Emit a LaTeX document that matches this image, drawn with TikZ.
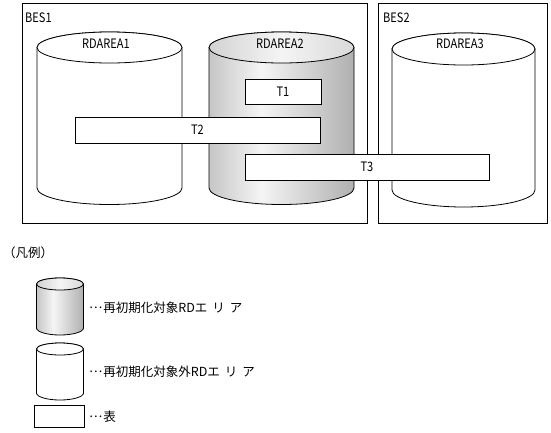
\documentclass[tikz,border=0pt]{standalone}
\usepackage{fontspec}
\setmainfont{Noto Sans CJK JP}
\newfontfamily\narrowfont{Noto Sans CJK JP}[FakeStretch=0.85]
\usetikzlibrary{positioning}

\pgfdeclarehorizontalshading{cylgray}{100bp}{color(0bp)=(gray!45); color(25bp)=(gray!45);
  color(43bp)=(gray!8); color(75bp)=(gray!62); color(100bp)=(gray!62)}
\pgfdeclarehorizontalshading{topgray}{100bp}{color(0bp)=(gray!35); color(25bp)=(gray!35);
  color(50bp)=(gray!8); color(75bp)=(gray!30); color(100bp)=(gray!30)}

\newcommand{\midellipsis}{\raisebox{0.33em}{…}\hspace{1pt}}

\tikzset{
  frame/.style={draw=black, line width=0.8pt},
  rdarea/.style={draw=black, line width=0.8pt, fill=white},
  target/.style={draw=black, line width=0.8pt, shading=cylgray},
  targettop/.style={draw=black, line width=0.8pt, shading=topgray},
  tbl/.style={draw=black, line width=0.8pt, fill=white, inner sep=0pt, font=\narrowfont\fontsize{13}{15}\selectfont},
  lbl/.style={inner sep=0pt, font=\narrowfont\fontsize{13}{15}\selectfont},
  legendtxt/.style={inner sep=0pt, anchor=west, font=\fontsize{12.5}{15}\selectfont}
}

\begin{document}
\begin{tikzpicture}[x=1pt, y=-1pt]
\useasboundingbox (0,0) rectangle (551,432);

% BES frames
\draw[frame] (22,3) rectangle (367,223);
\draw[frame] (378,3) rectangle (547,223);
\node[lbl, anchor=west] (bes1) at (25,18) {BES1};
\node[lbl, anchor=west] (bes2) at (383,18) {BES2};

% RDAREA1 (not target)
\draw[rdarea] (37,47.5) -- (37,188) arc[start angle=180, end angle=0, x radius=72.5, y radius=16.5]
  -- (182,47.5) arc[start angle=0, end angle=-180, x radius=72.5, y radius=15.5] -- cycle;
\draw[rdarea] (109.5,47.5) ellipse[x radius=72.5, y radius=15.5];
\node[lbl] (rd1) at (106,44) {RDAREA1};

% RDAREA2 (target)
\draw[target] (209,47.5) -- (209,188) arc[start angle=180, end angle=0, x radius=72.5, y radius=16.5]
  -- (354,47.5) arc[start angle=0, end angle=-180, x radius=72.5, y radius=15.5] -- cycle;
\draw[targettop] (281.5,47.5) ellipse[x radius=72.5, y radius=15.5];
\node[lbl] (rd2) at (280,44) {RDAREA2};

% RDAREA3 (not target)
\draw[rdarea] (392,49) -- (392,190) arc[start angle=180, end angle=0, x radius=71.5, y radius=17]
  -- (535,49) arc[start angle=0, end angle=-180, x radius=71.5, y radius=16] -- cycle;
\draw[rdarea] (463.5,49) ellipse[x radius=71.5, y radius=16];
\node[lbl] (rd3) at (460,44) {RDAREA3};

% tables
\node[tbl, minimum width=76, minimum height=25] (t1) at (283,91.5) {T1};
\node[tbl, minimum width=245, minimum height=26] (t2) at (197.5,130) {T2};
\node[tbl, minimum width=244, minimum height=26] (t3) at (367,167) {T3};

% legend
\node[legendtxt] (legend) at (3,253) {（凡例）};

\draw[target] (36.5,284) -- (36.5,328) arc[start angle=180, end angle=0, x radius=23.5, y radius=7]
  -- (83.5,284) arc[start angle=0, end angle=-180, x radius=23.5, y radius=6] -- cycle;
\draw[targettop] (60,284) ellipse[x radius=23.5, y radius=6];
\node[legendtxt] (lg1) at (89,308) {\midellipsis 再初期化対象RDエ\hspace{5pt}リ\hspace{5pt}ア};

\draw[rdarea] (36.5,349) -- (36.5,393) arc[start angle=180, end angle=0, x radius=23.5, y radius=7]
  -- (83.5,349) arc[start angle=0, end angle=-180, x radius=23.5, y radius=6] -- cycle;
\draw[rdarea] (60,349) ellipse[x radius=23.5, y radius=6];
\node[legendtxt] (lg2) at (89,372) {\midellipsis 再初期化対象外RDエ\hspace{5pt}リ\hspace{5pt}ア};

\node[tbl, minimum width=50, minimum height=22] (lgt) at (59.5,416) {};
\node[legendtxt] (lg3) at (89,417) {\midellipsis 表};
\end{tikzpicture}
\end{document}
